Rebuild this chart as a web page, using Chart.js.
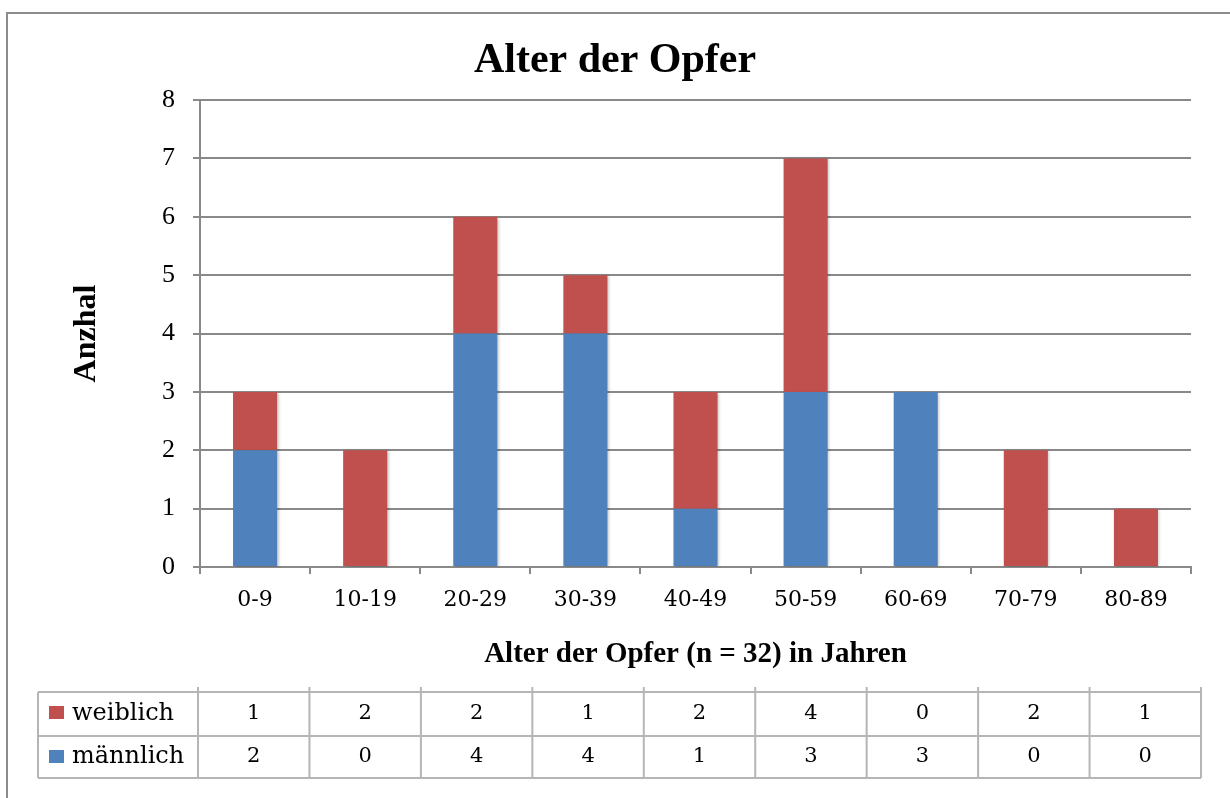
<!DOCTYPE html>
<html>
<head>
<meta charset="utf-8">
<script src="https://cdn.jsdelivr.net/npm/chart.js@4"></script>
<style>
  html, body { margin: 0; padding: 0; background: #fff; }
  canvas { display: block; }
</style>
</head>
<body>
<canvas id="chart" width="1230" height="798"></canvas>
<script>
const ageGroups = ['0-9', '10-19', '20-29', '30-39', '40-49', '50-59', '60-69', '70-79', '80-89'];
const weiblich = [1, 2, 2, 1, 2, 4, 0, 2, 1];
const maennlich = [2, 0, 4, 4, 1, 3, 3, 0, 0];
const yTicks = [0, 1, 2, 3, 4, 5, 6, 7, 8];

const BLUE = '#4F81BD';
const RED = '#C0504D';
const GRID = '#898989';
const TABLE_LINE = '#b5b5b5';

// soft shadow under the bars
const barShadow = {
  id: 'barShadow',
  beforeDatasetsDraw(chart) {
    const ctx = chart.ctx;
    ctx.save();
    ctx.shadowColor = 'rgba(0,0,0,0.28)';
    ctx.shadowBlur = 3;
    ctx.shadowOffsetX = 1.5;
    ctx.shadowOffsetY = 1;
  },
  afterDatasetsDraw(chart) {
    chart.ctx.restore();
  }
};

// outer frame + data table under the chart
const dataTable = {
  id: 'dataTable',
  afterDraw(chart) {
    const ctx = chart.ctx;
    const area = chart.chartArea;

    ctx.save();
    ctx.strokeStyle = '#8c8c8c';
    ctx.lineWidth = 2;
    ctx.beginPath();
    ctx.moveTo(7, 798);
    ctx.lineTo(7, 13);
    ctx.lineTo(1230, 13);
    ctx.stroke();

    const left = 38, labelRight = area.left - 2, right = area.right + 10;
    const top = 692, mid = 736, bottom = 778;
    const colW = (right - labelRight) / ageGroups.length;

    ctx.strokeStyle = TABLE_LINE;
    ctx.lineWidth = 2;
    ctx.beginPath();
    [top, mid, bottom].forEach(y => {
      ctx.moveTo(left, y);
      ctx.lineTo(right, y);
    });
    ctx.moveTo(left, top);
    ctx.lineTo(left, bottom);
    for (let i = 0; i <= ageGroups.length; i++) {
      const x = labelRight + i * colW;
      ctx.moveTo(x, top - 5);
      ctx.lineTo(x, bottom);
    }
    ctx.stroke();

    const rows = [
      { label: 'weiblich', color: RED, values: weiblich, y0: top, y1: mid },
      { label: 'männlich', color: BLUE, values: maennlich, y0: mid, y1: bottom }
    ];
    ctx.fillStyle = '#000';
    ctx.textBaseline = 'middle';
    rows.forEach(r => {
      const cy = (r.y0 + r.y1) / 2;
      ctx.fillStyle = r.color;
      ctx.fillRect(49, r.y0 + 14, 15, 13);
      ctx.fillStyle = '#000';
      ctx.font = '24px "DejaVu Serif"';
      ctx.textAlign = 'left';
      ctx.fillText(r.label, 72, cy);
      ctx.font = '21px "DejaVu Serif"';
      ctx.textAlign = 'center';
      r.values.forEach((v, i) => {
        ctx.fillText(String(v), labelRight + (i + 0.5) * colW, cy);
      });
    });
    ctx.restore();
  }
};

new Chart(document.getElementById('chart'), {
  type: 'bar',
  data: {
    labels: ageGroups,
    datasets: [
      { label: 'männlich', data: maennlich, backgroundColor: BLUE },
      { label: 'weiblich', data: weiblich, backgroundColor: RED }
    ]
  },
  options: {
    responsive: false,
    animation: false,
    devicePixelRatio: 1,
    layout: { padding: { left: 39, right: 39, top: 0, bottom: 98 } },
    datasets: { bar: { categoryPercentage: 1, barPercentage: 0.4 } },
    plugins: {
      legend: { display: false },
      tooltip: { enabled: false },
      title: {
        display: true,
        text: 'Alter der Opfer',
        color: '#000',
        font: { family: '"Liberation Serif"', size: 42, weight: 'bold' },
        padding: { top: 36, bottom: 13.6 }
      }
    },
    scales: {
      x: {
        stacked: true,
        grid: { drawOnChartArea: false, drawTicks: true, tickLength: 7, color: GRID, lineWidth: 2 },
        border: { display: true, color: GRID, width: 2 },
        ticks: { color: '#000', padding: 13, font: { family: '"DejaVu Serif"', size: 22 } },
        title: {
          display: true,
          text: 'Alter der Opfer (n = 32) in Jahren',
          color: '#000',
          font: { family: '"Liberation Serif"', size: 29, weight: 'bold' },
          padding: 27.6
        },
        afterFit(scale) { scale.height = 133; }
      },
      y: {
        stacked: true,
        min: 0,
        max: 8,
        afterBuildTicks(scale) { scale.ticks = yTicks.map(v => ({ value: v })); },
        grid: { color: GRID, lineWidth: 2, tickLength: 7 },
        border: { display: true, color: GRID, width: 2 },
        ticks: { color: '#000', padding: 18, font: { family: '"Liberation Serif"', size: 26 } },
        title: {
          display: true,
          text: 'Anzhal',
          color: '#000',
          font: { family: '"Liberation Serif"', size: 32, weight: 'bold' },
          padding: { top: 29, bottom: 0 }
        },
        afterFit(scale) { scale.width = 161; }
      }
    }
  },
  plugins: [barShadow, dataTable]
});
</script>
</body>
</html>
